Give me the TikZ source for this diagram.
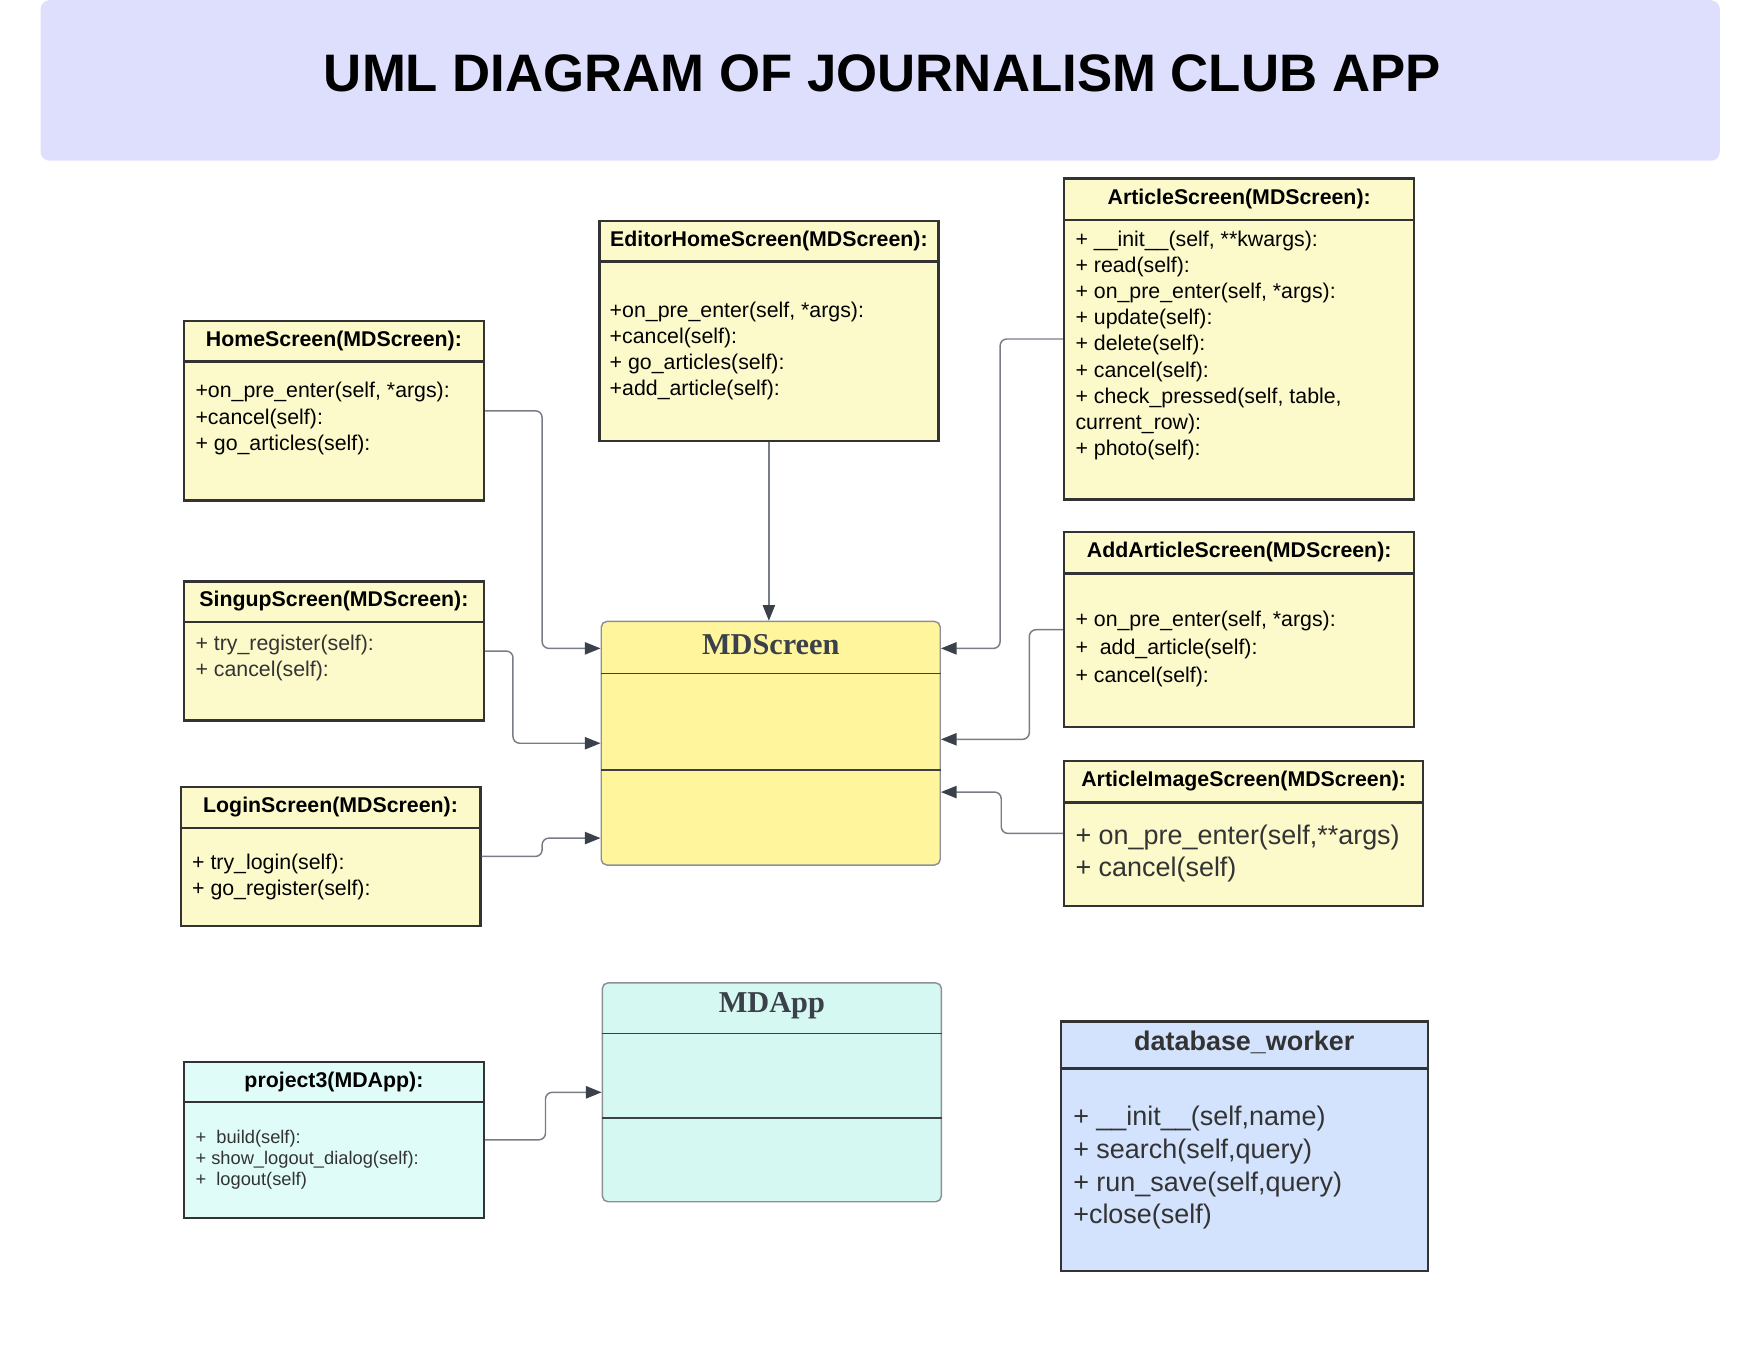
\documentclass[tikz,border=0pt]{standalone}
\usepackage{fontspec}
\setmainfont{Liberation Sans}
\newfontfamily\serifhead{Liberation Serif}
\usepackage{tikz}
\usetikzlibrary{calc,arrows.meta}

\definecolor{titlebg}{RGB}{222,222,253}
\definecolor{paleyellow}{RGB}{252,250,202}
\definecolor{mdyellow}{RGB}{255,245,157}
\definecolor{palecyan}{RGB}{224,252,248}
\definecolor{mdcyan}{RGB}{213,248,242}
\definecolor{paleblue}{RGB}{211,227,253}
\definecolor{boxline}{RGB}{51,51,51}
\definecolor{mdline}{RGB}{140,144,150}
\definecolor{mdtext}{RGB}{58,65,74}
\definecolor{linkgray}{RGB}{120,125,133}
\definecolor{softblack}{RGB}{51,51,51}

\tikzset{
	classbox/.style={draw=boxline, line width=2pt, inner sep=0pt, anchor=north west},
	mdbox/.style={draw=mdline, line width=1.3pt, rounded corners=5pt, inner sep=0pt, anchor=north west},
	divider/.style={draw=boxline, line width=2pt},
	mddivider/.style={draw=mdtext, line width=1pt},
	head/.style={inner sep=0pt, font=\fontsize{19}{23}\selectfont\bfseries},
	members/.style={anchor=north west, inner sep=0pt, yshift=-2.5pt, align=left, font=\fontsize{19}{23.3}\selectfont},
	link/.style={draw=linkgray, line width=1.3pt, rounded corners=6pt, -{Triangle[length=14pt,width=11pt,color=mdtext]}}
}

\begin{document}
\begin{tikzpicture}[x=1pt,y=-1pt]
			%%%%% START %%%%%
			\useasboundingbox (0,0) rectangle (1568,1211.7);
			
			\node[fill=titlebg, rounded corners=8pt, minimum width=1496pt, minimum height=143pt, anchor=north west, inner sep=0pt] (banner) at (36,0) {};
			\node[inner sep=0pt, font=\fontsize{47}{50}\selectfont\bfseries] (title) at (786,65.5) {UML DIAGRAM OF JOURNALISM CLUB APP};
			
			% left column
			\node[classbox, fill=paleyellow, minimum width=267pt, minimum height=160pt] (home) at (163,285) {};
			\draw[divider] ($(home.north west)+(0,37)$) -- ($(home.north east)+(0,37)$);
			\node[head] at ($(home.north)+(0,18.5)$) {HomeScreen(MDScreen):};
			\node[members] at (174,338) {+on\_pre\_enter(self, *args):\\+cancel(self):\\+ go\_articles(self):};
			
			\node[classbox, fill=paleyellow, minimum width=267pt, minimum height=124pt] (signup) at (163,517) {};
			\draw[divider] ($(signup.north west)+(0,37)$) -- ($(signup.north east)+(0,37)$);
			\node[head] at ($(signup.north)+(0,18.5)$) {SingupScreen(MDScreen):};
			\node[members, text=softblack] at (174,563) {+ try\_register(self):\\+ cancel(self):};
			
			\node[classbox, fill=paleyellow, minimum width=267pt, minimum height=124pt] (login) at (160,700) {};
			\draw[divider] ($(login.north west)+(0,38)$) -- ($(login.north east)+(0,38)$);
			\node[head] at ($(login.north)+(0,19)$) {LoginScreen(MDScreen):};
			\node[members] at (171,758) {+ try\_login(self):\\+ go\_register(self):};
			
			\node[classbox, fill=palecyan, minimum width=267pt, minimum height=139pt] (project) at (163,945) {};
			\draw[divider] ($(project.north west)+(0,37)$) -- ($(project.north east)+(0,37)$);
			\node[head] at ($(project.north)+(0,18.5)$) {project3(MDApp):};
			\node[members, text=softblack, font=\fontsize{16.3}{19}\selectfont] at (174,1004) {+~ build(self):\\+ show\_logout\_dialog(self):\\+~ logout(self)};
			
			% middle column
			\node[classbox, fill=paleyellow, minimum width=302pt, minimum height=196pt] (editor) at (533,196) {};
			\draw[divider] ($(editor.north west)+(0,37)$) -- ($(editor.north east)+(0,37)$);
			\node[head] at ($(editor.north)+(0,18.5)$) {EditorHomeScreen(MDScreen):};
			\node[members] at (543,266) {+on\_pre\_enter(self, *args):\\+cancel(self):\\+ go\_articles(self):\\+add\_article(self):};
			
			\node[mdbox, fill=mdyellow, minimum width=302pt, minimum height=217pt] (mdscreen) at (535,553) {};
			\draw[mddivider] ($(mdscreen.north west)+(0,47)$) -- ($(mdscreen.north east)+(0,47)$);
			\draw[mddivider] ($(mdscreen.north west)+(0,133)$) -- ($(mdscreen.north east)+(0,133)$);
			\node[inner sep=0pt, text=mdtext, font=\fontsize{27}{30}\selectfont\serifhead\bfseries] at ($(mdscreen.north)+(0,21)$) {MDScreen};
			
			\node[mdbox, fill=mdcyan, minimum width=302pt, minimum height=195pt] (mdapp) at (536,875) {};
			\draw[mddivider] ($(mdapp.north west)+(0,46)$) -- ($(mdapp.north east)+(0,46)$);
			\draw[mddivider] ($(mdapp.north west)+(0,121)$) -- ($(mdapp.north east)+(0,121)$);
			\node[inner sep=0pt, text=mdtext, font=\fontsize{27}{30}\selectfont\serifhead\bfseries] at ($(mdapp.north)+(0,21)$) {MDApp};
			
			% right column
			\node[classbox, fill=paleyellow, minimum width=312pt, minimum height=286pt] (article) at (947,158) {};
			\draw[divider] ($(article.north west)+(0,38)$) -- ($(article.north east)+(0,38)$);
			\node[head] at ($(article.north)+(0,19)$) {ArticleScreen(MDScreen):};
			\node[members] at (958,203) {+ \_\_init\_\_(self, **kwargs):\\+ read(self):\\+ on\_pre\_enter(self, *args):\\+ update(self):\\+ delete(self):\\+ cancel(self):\\+ check\_pressed(self, table,\\current\_row):\\+ photo(self):};
			
			\node[classbox, fill=paleyellow, minimum width=312pt, minimum height=174pt] (addart) at (947,473) {};
			\draw[divider] ($(addart.north west)+(0,38)$) -- ($(addart.north east)+(0,38)$);
			\node[head] at ($(addart.north)+(0,19)$) {AddArticleScreen(MDScreen):};
			\node[members, font=\fontsize{19}{25}\selectfont] at (958,542) {+ on\_pre\_enter(self, *args):\\+~ add\_article(self):\\+ cancel(self):};
			
			\node[classbox, fill=paleyellow, minimum width=320pt, minimum height=129pt] (artimg) at (947,677) {};
			\draw[divider] ($(artimg.north west)+(0,38)$) -- ($(artimg.north east)+(0,38)$);
			\node[head] at ($(artimg.north)+(0,19)$) {ArticleImageScreen(MDScreen):};
			\node[members, text=softblack, font=\fontsize{24}{28.5}\selectfont] at (958,732) {+ on\_pre\_enter(self,**args)\\+ cancel(self)};
			
			\node[classbox, fill=paleblue, minimum width=327pt, minimum height=222pt] (dbworker) at (944,909) {};
			\draw[divider] ($(dbworker.north west)+(0,43)$) -- ($(dbworker.north east)+(0,43)$);
			\node[head, text=softblack, font=\fontsize{24}{28}\selectfont\bfseries] at ($(dbworker.north)+(0,20)$) {database\_worker};
			\node[members, text=softblack, font=\fontsize{24}{29}\selectfont] at (956,983) {+ \_\_init\_\_(self,name)\\+ search(self,query)\\+ run\_save(self,query)\\+close(self)};
			
			% connectors
			\draw[link] (home.east) -- ++(51,0) |- ($(mdscreen.west)+(0,-84.5)$);
			\draw[link] (signup.east) -- ++(25,0) |- (mdscreen.west);
			\draw[link] (login.east) -- ++(54,0) |- ($(mdscreen.west)+(0,84.5)$);
			\draw[link] (editor.south) -- (editor.south |- mdscreen.north);
			\draw[link] (article.west) -- ++(-56,0) |- ($(mdscreen.east)+(0,-84.5)$);
			\draw[link] (addart.west) -- ++(-30,0) |- ($(mdscreen.east)+(0,-3.5)$);
			\draw[link] (artimg.west) -- ++(-55,0) |- ($(mdscreen.east)+(0,43.5)$);
			\draw[link] (project.east) -- ++(54,0) |- (mdapp.west);
			
			%%%%% END %%%%%
\end{tikzpicture}
\end{document}
